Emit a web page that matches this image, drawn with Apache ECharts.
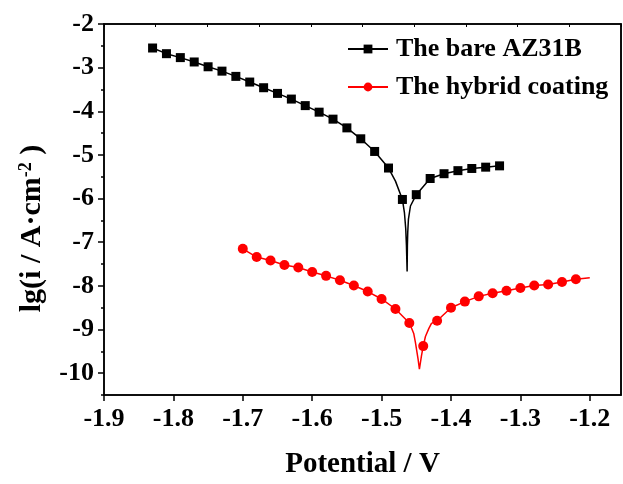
<!DOCTYPE html>
<html>
<head>
<meta charset="utf-8">
<script src="https://cdn.jsdelivr.net/npm/echarts@6/dist/echarts.min.js"></script>
<style>
  html, body { margin: 0; padding: 0; background: #fff; }
  #chart { width: 623px; height: 484px; }
</style>
</head>
<body>
<div id="chart"></div>
<script>
// bare AZ31B, points with square markers
const bareE = [-1.83, -1.81, -1.79, -1.77, -1.75, -1.73, -1.71, -1.69, -1.67, -1.65, -1.63, -1.61, -1.59,
  -1.57, -1.55, -1.53, -1.51, -1.49, -1.47, -1.45, -1.43, -1.41, -1.39, -1.37, -1.35, -1.33];
const bareLogI = [-2.55, -2.68, -2.77, -2.87, -2.98, -3.08, -3.20, -3.33, -3.46, -3.59, -3.72, -3.87, -4.02,
  -4.18, -4.38, -4.63, -4.92, -5.30, -6.02, -5.91, -5.54, -5.43, -5.36, -5.31, -5.28, -5.25];
// bare AZ31B, line-only points around the corrosion potential
const bareDipE = [-1.48, -1.4671, -1.4652, -1.4642, -1.4632, -1.4628, -1.4623, -1.4613, -1.4584];
const bareDipLogI = [-5.60, -6.32, -6.69, -7.07, -7.67, -7.07, -6.77, -6.47, -6.17];

// hybrid coating, points with circle markers
const coatE = [-1.70, -1.68, -1.66, -1.64, -1.62, -1.60, -1.58, -1.56, -1.54, -1.52, -1.50, -1.48, -1.46,
  -1.44, -1.42, -1.40, -1.38, -1.36, -1.34, -1.32, -1.30, -1.28, -1.26, -1.24, -1.22];
const coatLogI = [-7.15, -7.34, -7.42, -7.52, -7.58, -7.68, -7.77, -7.87, -7.99, -8.13, -8.30, -8.53, -8.85,
  -9.38, -8.80, -8.50, -8.36, -8.24, -8.17, -8.11, -8.05, -7.99, -7.97, -7.91, -7.85];
// hybrid coating, line-only points
const coatDipE = [-1.456, -1.4537, -1.4512, -1.4488, -1.4473, -1.4455, -1.443, -1.4426, -1.4368, -1.432, -1.4281, -1.20];
const coatDipLogI = [-9.00, -9.09, -9.30, -9.33, -9.69, -9.91, -9.91, -9.61, -9.16, -8.98, -8.86, -7.815];

const xTicks = [-1.9, -1.8, -1.7, -1.6, -1.5, -1.4, -1.3, -1.2];
const yTicks = [-10, -9, -8, -7, -6, -5, -4, -3, -2];
const yMinorTicks = [-10.5, -9.5, -8.5, -7.5, -6.5, -5.5, -4.5, -3.5, -2.5];

const FONT = "'Liberation Serif', 'Times New Roman', serif";

function buildData(e, v, lineE, lineV) {
  const pts = e.map((x, i) => ({ value: [x, v[i]] }));
  lineE.forEach((x, i) => pts.push({ value: [x, lineV[i]], symbol: "none" }));
  pts.sort((a, b) => a.value[0] - b.value[0]);
  return pts;
}

const chart = echarts.init(document.getElementById("chart"));

const axisLine = { show: true, lineStyle: { color: "#000", width: 1.5 } };

chart.setOption({
  animation: false,
  backgroundColor: "#fff",
  grid: {
    left: 104, right: 2, top: 24, bottom: 81,
    show: true, borderColor: "#000", borderWidth: 1.5,
    containLabel: false,
  },
  legend: {
    orient: "vertical",
    left: 347,
    top: 34,
    padding: 0,
    itemWidth: 40,
    itemHeight: 11,
    itemGap: 8,
    textStyle: {
      fontFamily: FONT, fontWeight: "bold", fontSize: 26, color: "#000",
      lineHeight: 30, padding: [0, 0, 0, 3],
    },
    data: ["The bare AZ31B", "The hybrid coating"],
  },
  xAxis: [
    {
      type: "value",
      position: "bottom",
      min: -1.9,
      max: -1.155,
      axisLine: axisLine,
      axisTick: { show: true, inside: false, length: 6, customValues: xTicks, lineStyle: { color: "#000", width: 1.5 } },
      axisLabel: {
        customValues: xTicks,
        formatter: (v) => v.toFixed(1),
        fontFamily: FONT, fontWeight: "bold", fontSize: 26, color: "#000", margin: 11,
      },
      splitLine: { show: false },
      name: "Potential / V",
      nameLocation: "middle",
      nameGap: 55,
      nameTextStyle: { fontFamily: FONT, fontWeight: "bold", fontSize: 29, color: "#000" },
    },
    {
      // top frame ticks
      type: "value",
      position: "top",
      min: 0,
      max: 10,
      interval: 1,
      axisLine: axisLine,
      axisTick: { show: true, inside: true, length: 3, lineStyle: { color: "#000", width: 1 } },
      axisLabel: { show: false },
      splitLine: { show: false },
    },
  ],
  yAxis: [
    {
      type: "value",
      position: "left",
      min: -10.5,
      max: -2,
      axisLine: axisLine,
      axisTick: { show: true, inside: false, length: 6, customValues: yTicks, lineStyle: { color: "#000", width: 1.5 } },
      axisLabel: {
        customValues: yTicks,
        formatter: (v) => String(v),
        fontFamily: FONT, fontWeight: "bold", fontSize: 26, color: "#000", margin: 10,
      },
      splitLine: { show: false },
      name: "{a|lg(i / A·cm}{sup|-2}{a| )}",
      nameLocation: "middle",
      nameGap: 57,
      nameTextStyle: {
        padding: [0, 38, 0, 0],
        rich: {
          a: { fontFamily: FONT, fontWeight: "bold", fontSize: 30, color: "#000" },
          sup: { fontFamily: FONT, fontWeight: "bold", fontSize: 18, color: "#000", verticalAlign: "top" },
        },
      },
    },
    {
      // minor ticks on the left
      type: "value",
      position: "left",
      min: -10.5,
      max: -2,
      axisLine: { show: false },
      axisTick: { show: true, inside: false, length: 3, customValues: yMinorTicks, lineStyle: { color: "#000", width: 1.5 } },
      axisLabel: { show: false },
      splitLine: { show: false },
    },
    {
      type: "value",
      position: "right",
      min: -10.5,
      max: -2,
      axisLine: axisLine,
      axisTick: { show: false },
      axisLabel: { show: false },
      splitLine: { show: false },
    },
  ],
  series: [
    {
      name: "The bare AZ31B",
      type: "line",
      data: buildData(bareE, bareLogI, bareDipE, bareDipLogI),
      symbol: "rect",
      symbolSize: 9,
      showAllSymbol: true,
      lineStyle: { color: "#000", width: 1.5 },
      itemStyle: { color: "#000" },
    },
    {
      name: "The hybrid coating",
      type: "line",
      data: buildData(coatE, coatLogI, coatDipE, coatDipLogI),
      symbol: "circle",
      symbolSize: 10,
      showAllSymbol: true,
      lineStyle: { color: "#ff0000", width: 1.5 },
      itemStyle: { color: "#ff0000" },
    },
  ],
});
</script>
</body>
</html>
